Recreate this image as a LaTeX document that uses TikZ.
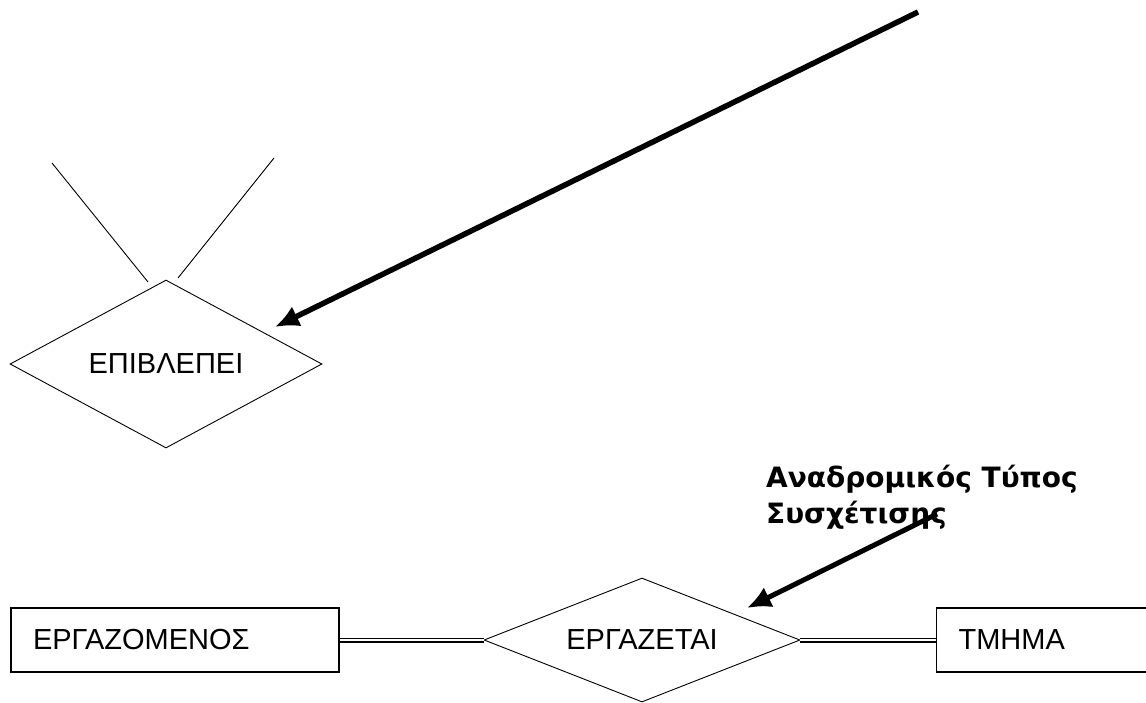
\documentclass[tikz,border=0pt]{standalone}
\usepackage{fontspec}
\setmainfont{Liberation Sans}
\newfontfamily\notefont{DejaVu Sans}
\usetikzlibrary{shapes.geometric,arrows.meta}
\tikzset{ %all lengths in pt, y runs downwards
  >={Latex[length=24pt,width=22pt]},
  {entity/.style} ={draw, rectangle, line width=1.2pt, minimum height=64pt,
                 text width=284pt, inner xsep=22pt, align=left,
                 font=\fontsize{29}{34}\selectfont},
  {relation/.style} ={draw, diamond, line width=0.9pt, inner sep=0,
                 font=\fontsize{29}{34}\selectfont},
  {total/.style} ={draw, double, double distance=1.8pt, line width=1.6pt},
  {leg/.style} ={draw, line width=0.9pt},
  {pointer/.style} ={->, line width=5.5pt},
}

\begin{document}
\begin{tikzpicture}[x=1pt,y=-1pt]
\useasboundingbox (0,0) rectangle (1146,702);

% recursive relationship with its two role lines
\node[relation, aspect=1.86, minimum width=312pt, minimum height=168pt]
    (supervises) at (166,364) {ΕΠΙΒΛΕΠΕΙ};
\coordinate (sup left) at (52,163);
\coordinate (sup left end) at (148,282);
\coordinate (sup right) at (274,158);
\coordinate (sup right end) at (178,278);
\draw[leg] (sup left) -- (sup left end);
\draw[leg] (sup right) -- (sup right end);

% entities and the binary relationship
\node[entity] (employee) at (175,640) {ΕΡΓΑΖΟΜΕΝΟΣ};
\node[relation, aspect=2.55, minimum width=316pt, minimum height=124pt]
    (works) at (642,640) {ΕΡΓΑΖΕΤΑΙ};
\node[entity, anchor=west] (dept) at (936,640) {ΤΜΗΜΑ};
\draw[total] (employee) -- (works);
\draw[total] (works) -- (dept);

% note and its pointers
\node[font=\notefont\bfseries\fontsize{28}{36}\selectfont, align=left,
      anchor=north west, inner sep=0] (recursive) at (766,465)
    {Αναδρομικός Τύπος\\Συσχέτισης};
\coordinate (note tail) at (918,12);
\coordinate (note tip) at (275,327);
\draw[pointer] (note tail) -- (note tip);
\coordinate (recursive tail) at (937,514);
\coordinate (recursive tip) at (747,608);
\draw[pointer, line width=5pt] (recursive tail) -- (recursive tip);
\end{tikzpicture}
\end{document}
